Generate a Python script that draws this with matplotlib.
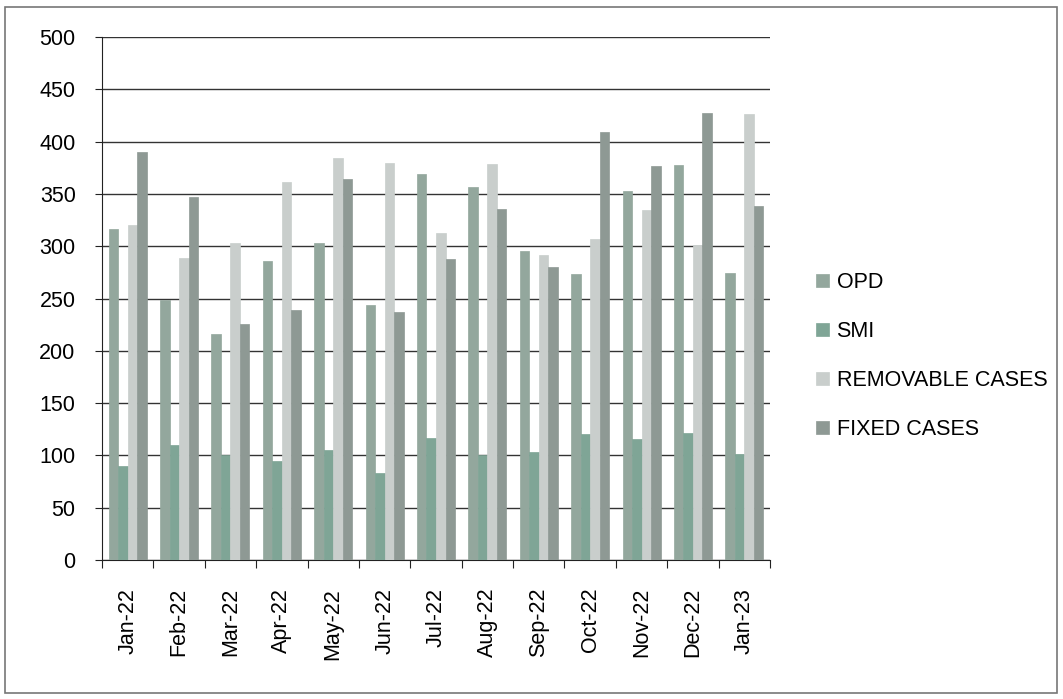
import numpy as np
import matplotlib
matplotlib.use("Agg")
import matplotlib.pyplot as plt
from matplotlib.patches import Rectangle

plt.rcParams['font.family'] = ['Liberation Sans', 'DejaVu Sans']

# data
months = ['Jan-22', 'Feb-22', 'Mar-22', 'Apr-22', 'May-22', 'Jun-22', 'Jul-22',
          'Aug-22', 'Sep-22', 'Oct-22', 'Nov-22', 'Dec-22', 'Jan-23']
opd = [316, 249, 216, 286, 303, 244, 369, 357, 295, 273, 353, 378, 274]
smi = [90, 110, 100, 95, 105, 83, 117, 100, 103, 120, 116, 121, 101]
removable = [320, 289, 303, 361, 384, 380, 313, 379, 292, 307, 335, 301, 426]
fixed = [390, 347, 226, 239, 364, 237, 288, 336, 280, 409, 377, 427, 338]

series = [('OPD', opd, '#93a79d'),
          ('SMI', smi, '#7fa596'),
          ('REMOVABLE CASES', removable, '#c9cecc'),
          ('FIXED CASES', fixed, '#8e9994')]

fig = plt.figure(figsize=(10.63, 6.99), dpi=100)
ax = fig.add_axes([102 / 1063, 1 - 560 / 699, 668 / 1063, 523 / 699])

x = np.arange(len(months))
w = 0.185
for i, (name, vals, col) in enumerate(series):
    ax.bar(x + (i - 1.5) * w, vals, width=w, color=col, edgecolor=col,
           linewidth=0.5, label=name, zorder=3)

ax.set_xlim(-0.5, len(months) - 0.5)
ax.set_ylim(0, 500)
ax.set_yticks(np.arange(0, 501, 50))
ax.yaxis.grid(True, color='#333333', linewidth=1.0, zorder=0)

# ticks at category edges, labels at centers
ax.set_xticks(np.arange(-0.5, len(months), 1))
ax.set_xticklabels([])
ax.set_xticks(x, minor=True)
ax.set_xticklabels(months, minor=True, rotation=90, fontsize=15.5)
ax.tick_params(axis='x', which='minor', length=0, pad=20)
ax.tick_params(axis='x', which='major', length=6, direction='out', color='#222222')
ax.tick_params(axis='y', labelsize=15.5, length=5, color='#222222', pad=14)

for s in ['top', 'right']:
    ax.spines[s].set_visible(False)
ax.spines['left'].set_color('#222222')
ax.spines['bottom'].set_color('#222222')

ax.legend(loc='center left', bbox_to_anchor=(1.04, 0.39), frameon=False,
          fontsize=15.5, handlelength=0.6, handleheight=0.6, labelspacing=1.3,
          handletextpad=0.35)

# outer frame of the chart area
fig.patches.append(Rectangle((5 / 1063, 6 / 699), 1052 / 1063, 686 / 699,
                             transform=fig.transFigure, fill=False,
                             edgecolor='#777777', linewidth=1.2))

fig.savefig('out.png', dpi=100)
